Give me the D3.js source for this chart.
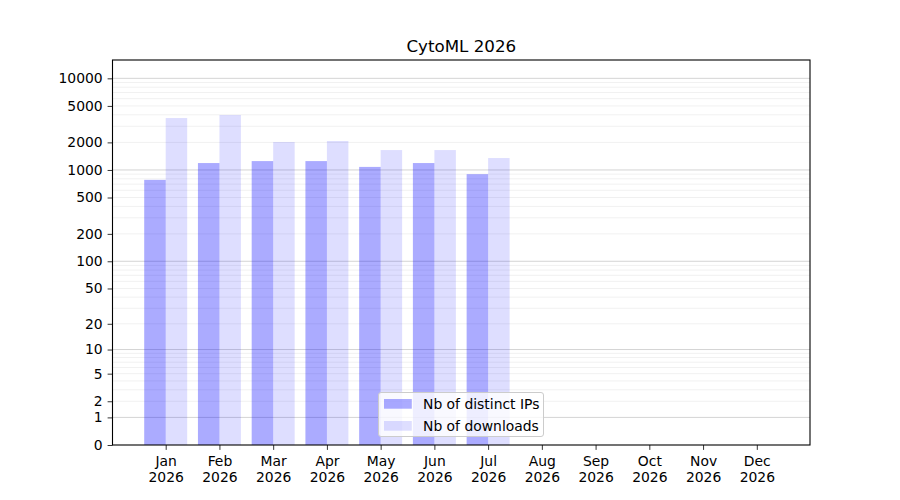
<!DOCTYPE html>
<html>
<head>
<meta charset="utf-8">
<script src="https://cdn.jsdelivr.net/npm/d3@7"></script>
<style>
  body { margin: 0; background: #fff; }
  text { font-family: "DejaVu Sans", sans-serif; fill: #000; }
</style>
</head>
<body>
<div id="chart"></div>
<script>
// values
var months = ["Jan", "Feb", "Mar", "Apr", "May", "Jun", "Jul", "Aug", "Sep", "Oct", "Nov", "Dec"];
var yearLabel = "2026";
var distinctIPs = [780, 1190, 1250, 1250, 1080, 1190, 900, 0, 0, 0, 0, 0];
var downloads = [3690, 3980, 2020, 2070, 1650, 1650, 1350, 0, 0, 0, 0, 0];
var yTicks = [0, 1, 2, 5, 10, 20, 50, 100, 200, 500, 1000, 2000, 5000, 10000];
var majorGrid = [1, 10, 100, 1000, 10000];
var seriesNames = ["Nb of distinct IPs", "Nb of downloads"];

var W = 900, H = 500;
var pLeft = 112.5, pRight = 810, pTop = 60, pBottom = 445;
var fs = 13.9;

var svg = d3.select("#chart").append("svg")
    .attr("width", W).attr("height", H);

var x = d3.scaleLinear().domain([-0.99, 11.99]).range([pLeft, pRight]);
var y = d3.scaleSymlog().constant(1).domain([0, 15848]).range([pBottom, pTop]);

// minor grid: 2..9 in each decade
var minorGrid = [];
[1, 10, 100, 1000].forEach(function(d) {
  for (var k = 2; k <= 9; k++) minorGrid.push(k * d);
});

var grid = svg.append("g");
grid.selectAll("line.minor").data(minorGrid).enter().append("line")
    .attr("class", "minor")
    .attr("x1", pLeft).attr("x2", pRight)
    .attr("y1", function(d) { return y(d); }).attr("y2", function(d) { return y(d); })
    .attr("stroke", "#000").attr("stroke-opacity", 0.075).attr("stroke-width", 0.8);
grid.selectAll("line.major").data(majorGrid).enter().append("line")
    .attr("class", "major")
    .attr("x1", pLeft).attr("x2", pRight)
    .attr("y1", function(d) { return y(d); }).attr("y2", function(d) { return y(d); })
    .attr("stroke", "#000").attr("stroke-opacity", 0.22).attr("stroke-width", 0.8);

var bw = x(0.4) - x(0);
var bars = svg.append("g");
bars.selectAll("rect.ip").data(distinctIPs).enter().append("rect")
    .attr("class", "ip")
    .attr("x", function(d, i) { return x(i - 0.4); })
    .attr("width", bw)
    .attr("y", function(d) { return y(d); })
    .attr("height", function(d) { return y(0) - y(d); })
    .attr("fill", "blue").attr("fill-opacity", 0.33);
bars.selectAll("rect.dl").data(downloads).enter().append("rect")
    .attr("class", "dl")
    .attr("x", function(d, i) { return x(i); })
    .attr("width", bw)
    .attr("y", function(d) { return y(d); })
    .attr("height", function(d) { return y(0) - y(d); })
    .attr("fill", "blue").attr("fill-opacity", 0.13);

// y axis
var yAxis = d3.axisLeft(y).tickValues(yTicks).tickFormat(d3.format("d"))
    .tickSize(4.9).tickPadding(4.9);
var gy = svg.append("g").attr("transform", "translate(" + pLeft + ",0)").call(yAxis);
gy.select(".domain").remove();
gy.selectAll(".tick line").attr("stroke", "#000").attr("stroke-width", 0.8);
gy.selectAll(".tick text").attr("font-size", fs).attr("font-family", "DejaVu Sans");

// x axis
var xAxis = d3.axisBottom(x).tickValues(d3.range(12)).tickFormat("")
    .tickSize(4.9);
var gx = svg.append("g").attr("transform", "translate(0," + pBottom + ")").call(xAxis);
gx.select(".domain").remove();
gx.selectAll(".tick line").attr("stroke", "#000").attr("stroke-width", 0.8);
gx.selectAll(".tick").each(function(d) {
  var t = d3.select(this).append("text")
      .attr("text-anchor", "middle")
      .attr("font-size", fs)
      .attr("font-family", "DejaVu Sans");
  t.append("tspan").attr("x", 0).attr("y", 21).text(months[d]);
  t.append("tspan").attr("x", 0).attr("y", 37).text(yearLabel);
});

// frame
svg.append("rect")
    .attr("x", pLeft).attr("y", pTop)
    .attr("width", pRight - pLeft).attr("height", pBottom - pTop)
    .attr("fill", "none").attr("stroke", "#000").attr("stroke-width", 1.1);

// title
svg.append("text")
    .attr("x", (pLeft + pRight) / 2).attr("y", 51.7)
    .attr("text-anchor", "middle")
    .attr("font-size", 16.7)
    .text("CytoML " + yearLabel);

// legend, lower center
var lg = svg.append("g");
var lx = 378.5, ly = 392.5, lw = 165, lh = 44;
lg.append("rect")
    .attr("x", lx).attr("y", ly).attr("width", lw).attr("height", lh)
    .attr("rx", 2.5)
    .attr("fill", "#fff").attr("fill-opacity", 0.8)
    .attr("stroke", "#ccc").attr("stroke-width", 1);
var fills = [0.33, 0.13];
seriesNames.forEach(function(name, i) {
  var ry = ly + 6.5 + i * 22;
  lg.append("rect")
      .attr("x", lx + 5.5).attr("y", ry)
      .attr("width", 27.8).attr("height", 9.7)
      .attr("fill", "blue").attr("fill-opacity", fills[i]);
  lg.append("text")
      .attr("x", lx + 44.5).attr("y", ry + 9.5)
      .attr("font-size", fs)
      .text(name);
});
</script>
</body>
</html>
